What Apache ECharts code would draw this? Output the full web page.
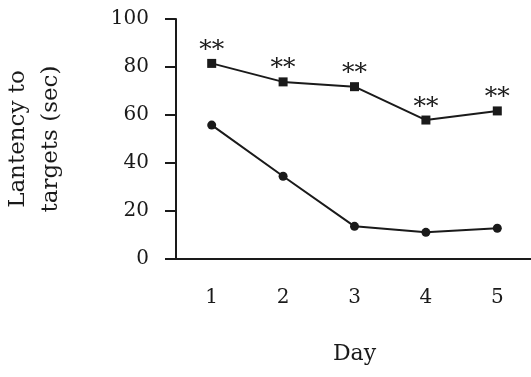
<!DOCTYPE html>
<html>
<head>
<meta charset="utf-8">
<script src="https://cdn.jsdelivr.net/npm/echarts@6/dist/echarts.min.js"></script>
<style>
  html, body { margin: 0; padding: 0; background: #fff; }
  #chart { width: 531px; height: 377px; }
</style>
</head>
<body>
<div id="chart"></div>
<script>
// data
const days = ["1", "2", "3", "4", "5"];
const squareSeries = [81.5, 73.8, 71.8, 57.9, 61.7];
const circleSeries = [55.8, 34.5, 13.6, 11.1, 12.8];
const sigMarks = ["**", "**", "**", "**", "**"];

const FONT = "DejaVu Serif";
const INK = "#1a1a1a";

const chart = echarts.init(document.getElementById("chart"));

const option = {
  animation: false,
  grid: { left: 176, top: 19, width: 357, height: 240, outerBoundsMode: "none", containLabel: false },
  xAxis: {
    type: "category",
    data: days,
    boundaryGap: true,
    name: "Day",
    nameLocation: "middle",
    nameGap: 84,
    nameTextStyle: { fontFamily: FONT, fontSize: 22, color: INK },
    axisLine: { lineStyle: { color: INK, width: 2 } },
    axisTick: { alignWithLabel: true, length: 12, lineStyle: { color: INK, width: 2 } },
    axisLabel: { margin: 29, fontFamily: FONT, fontSize: 20, color: INK },
    splitLine: { show: false },
  },
  yAxis: {
    type: "value",
    min: 0,
    max: 100,
    interval: 20,
    name: "Lantency to\ntargets (sec)",
    nameLocation: "middle",
    nameGap: 108,
    nameRotate: 90,
    nameTextStyle: { fontFamily: FONT, fontSize: 23, color: INK, lineHeight: 33 },
    axisLine: { show: true, lineStyle: { color: INK, width: 2 } },
    axisTick: { show: true, length: 11, lineStyle: { color: INK, width: 2 } },
    axisLabel: { margin: 27, fontFamily: FONT, fontSize: 20, color: INK },
    splitLine: { show: false },
  },
  series: [
    {
      type: "line",
      data: squareSeries,
      symbol: "rect",
      symbolSize: 9,
      lineStyle: { color: INK, width: 2 },
      itemStyle: { color: INK },
      label: {
        show: true,
        position: "top",
        distance: -4,
        formatter: (p) => sigMarks[p.dataIndex],
        fontFamily: FONT,
        fontSize: 25,
        color: INK,
      },
    },
    {
      type: "line",
      data: circleSeries,
      symbol: "circle",
      symbolSize: 9,
      lineStyle: { color: INK, width: 2 },
      itemStyle: { color: INK },
    },
  ],
};

chart.setOption(option);
</script>
</body>
</html>
